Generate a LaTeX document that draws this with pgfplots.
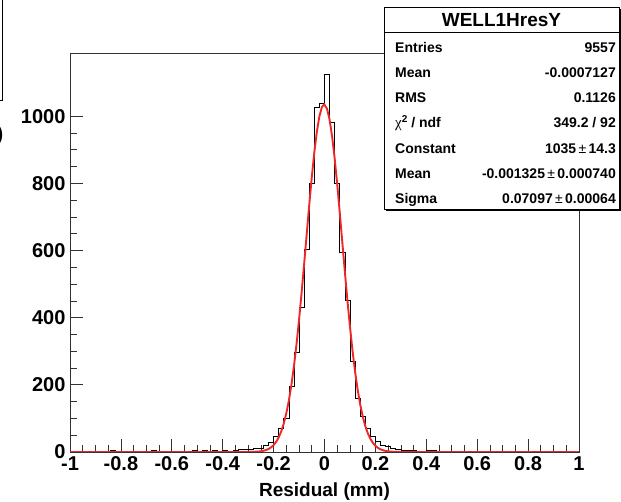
\documentclass[border=0pt]{standalone}
\usepackage{pgfplots}
\pgfplotsset{compat=1.18}
\usepackage{fontspec}
\setmainfont{Liberation Sans}
\newfontfamily\symfont{Liberation Serif}

\definecolor{fitred}{RGB}{238,40,40}

% histogram of residuals: left bin edge, entries (bin width 0.02)
\pgfplotstableread{
x y
-1.00 1
-0.98 2
-0.96 1
-0.94 2
-0.92 2
-0.90 3
-0.88 3
-0.86 2
-0.84 4
-0.82 3
-0.80 2
-0.78 1
-0.76 2
-0.74 1
-0.72 2
-0.70 2
-0.68 4
-0.66 3
-0.64 2
-0.62 1
-0.60 2
-0.58 2
-0.56 1
-0.54 2
-0.52 4
-0.50 3
-0.48 4
-0.46 3
-0.44 4
-0.42 3
-0.40 4
-0.38 3
-0.36 5
-0.34 7
-0.32 8
-0.30 9
-0.28 11
-0.26 11
-0.24 21
-0.22 30
-0.20 48
-0.18 70
-0.16 100
-0.14 194
-0.12 298
-0.10 432
-0.08 603
-0.06 800
-0.04 1025
-0.02 1038
0.00 1125
0.02 981
0.04 800
0.06 593
0.08 452
0.10 269
0.12 160
0.14 105
0.16 70
0.18 46
0.20 31
0.22 21
0.24 16
0.26 10
0.28 8
0.30 6
0.32 5
0.34 4
0.36 3
0.38 3
0.40 4
0.42 4
0.44 3
0.46 2
0.48 3
0.50 3
0.52 3
0.54 2
0.56 1
0.58 2
0.60 1
0.62 2
0.64 2
0.66 1
0.68 2
0.70 2
0.72 1
0.74 2
0.76 1
0.78 1
0.80 2
0.82 1
0.84 0
0.86 2
0.88 1
0.90 1
0.92 2
0.94 1
0.96 0
0.98 1
1.00 1
}\histdata

% gaussian fit, tabulated
\pgfplotstableread{
x y
-1.00 0
-0.40 0
-0.35 0.01
-0.32 0.04
-0.30 0.15
-0.28 0.47
-0.26 1.35
-0.25 2.23
-0.24 3.62
-0.23 5.76
-0.22 8.98
-0.21 13.7
-0.20 20.6
-0.19 30.2
-0.18 43.5
-0.17 61.4
-0.16 85.0
-0.15 115.3
-0.14 153.4
-0.13 200.0
-0.12 255.7
-0.11 320.5
-0.10 393.7
-0.09 474.2
-0.08 559.8
-0.07 648.0
-0.06 735.4
-0.05 818.1
-0.04 892.2
-0.03 953.9
-0.02 999.8
-0.01 1027.3
-0.001 1035.0
0.01 1021.9
0.02 989.3
0.03 938.9
0.04 873.6
0.05 796.8
0.06 712.5
0.07 624.6
0.08 536.8
0.09 452.2
0.10 373.5
0.11 302.4
0.12 240.1
0.13 186.8
0.14 142.5
0.15 106.6
0.16 78.2
0.17 56.2
0.18 39.6
0.19 27.3
0.20 18.5
0.21 12.3
0.22 8.0
0.23 5.1
0.24 3.19
0.25 1.96
0.26 1.18
0.28 0.40
0.30 0.13
0.35 0.01
0.40 0
1.00 0
}\fitdata

\begin{document}
\begin{tikzpicture}[x=1pt,y=1pt]
\useasboundingbox (0,0) rectangle (621,502);

% fragment of the neighbouring box at the top left
\draw[line width=0.9pt, black] (-5,402) -- (2.7,402) -- (2.7,506);
\node[anchor=east, inner sep=0pt, font=\fontsize{20}{20}\selectfont\bfseries] at (3.5,367) {)};

\begin{axis}[
  at={(70pt,50pt)}, anchor=south west, scale only axis,
  width=509pt, height=399pt,
  xmin=-1, xmax=1, ymin=0, ymax=1188,
  axis line style={line width=0.8pt, black!80},
  tick style={line width=0.7pt, black!80},
  tick align=inside,
  xtick pos=bottom, ytick pos=left,
  xtick={-1,-0.8,-0.6,-0.4,-0.2,0,0.2,0.4,0.6,0.8,1},
  xticklabels={-1,-0.8,-0.6,-0.4,-0.2,0,0.2,0.4,0.6,0.8,1},
  ytick={0,200,400,600,800,1000},
  yticklabels={0,200,400,600,800,1000},
  minor x tick num=3, minor y tick num=3,
  major tick length=13pt, minor tick length=7pt,
  ticklabel style={font=\fontsize{20}{20}\selectfont\bfseries},
  xticklabel style={yshift=-1pt},
  yticklabel style={xshift=-1pt},
  xlabel={Residual (mm)},
  xlabel style={font=\fontsize{19}{19}\selectfont\bfseries, at={(axis description cs:0.5,0)}, anchor=base, yshift=-45pt},
  clip=true,
]
\addplot[const plot, black, line width=0.7pt] table[x=x,y=y] {\histdata};
\addplot[fitred, line width=1.9pt] table[x=x,y=y] {\fitdata};
\end{axis}

% statistics box
\fill[black] (386,290.7) rectangle (621,492.7);
\draw[line width=0.8pt, fill=white] (384,292.7) rectangle (619,494.7);
\draw[line width=0.8pt] (384,469.7) -- (619,469.7);
\node[font=\fontsize{19}{19}\selectfont\bfseries, anchor=base] at (501.5,475.5) {WELL1HresY};
\begin{scope}[every node/.style={font=\fontsize{14}{14}\selectfont\bfseries, inner sep=0pt}]
\node[anchor=base west] at (395,449.7) {Entries};
\node[anchor=base east] at (616,449.7) {9557};
\node[anchor=base west] at (395,424.7) {Mean};
\node[anchor=base east] at (616,424.7) {-0.0007127};
\node[anchor=base west] at (395,399.7) {RMS};
\node[anchor=base east] at (616,399.7) {0.1126};
\node[anchor=base west] at (395,374.7) {{\symfont\mdseries\fontsize{15}{15}\selectfont χ}\raisebox{5pt}{\fontsize{10}{10}\selectfont 2} / ndf};
\node[anchor=base east] at (616,374.7) {349.2 / 92};
\node[anchor=base west] at (395,348.7) {Constant};
\node[anchor=base east] at (616,348.7) {1035\,{\mdseries ±}\,14.3};
\node[anchor=base west] at (395,323.7) {Mean};
\node[anchor=base east] at (616,323.7) {-0.001325\,{\mdseries ±}\,0.000740};
\node[anchor=base west] at (395,298.7) {Sigma};
\node[anchor=base east] at (616,298.7) {0.07097\,{\mdseries ±}\,0.00064};
\end{scope}
\end{tikzpicture}
\end{document}
